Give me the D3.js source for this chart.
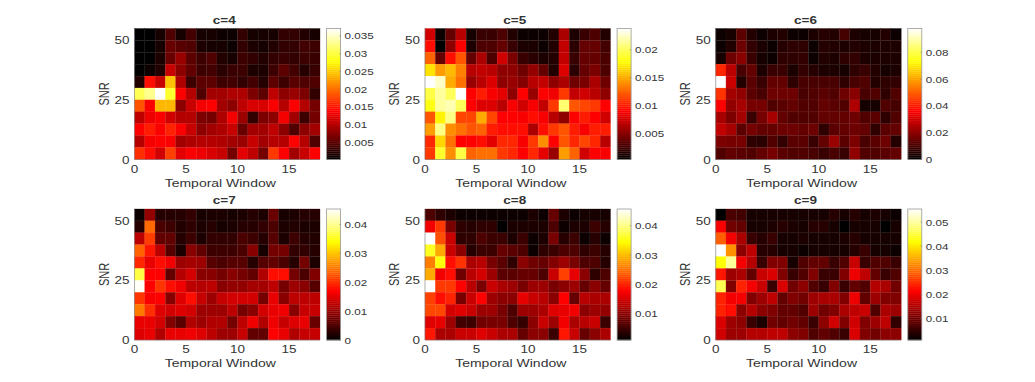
<!DOCTYPE html>
<html>
<head>
<meta charset="utf-8">
<script src="https://cdn.jsdelivr.net/npm/d3@7"></script>
<style>
  html, body { margin: 0; background: #fff; }
  svg { display: block; }
  text { font-family: "Liberation Sans", Arial, sans-serif; fill: #333; }
</style>
</head>
<body>
<div id="chart"></div>
<script>
// Six hot-colormap heatmaps, SNR against temporal window.
const W = 1035, H = 382;

const titles = ["c=4", "c=5", "c=6", "c=7", "c=8", "c=9"];
const xTicks = [0, 5, 10, 15];
const yTicks = [0, 25, 50];
const nCols = 18, nRows = 11, xMax = 18, yMax = 55;

// values are in thousandths, rows listed from the top one (SNR 50-55) down
const c4 = [
  [.4,.3,1.2,4.5,1.5,3.8,1.2,1.5,1,.8,2.8,1.2,1.2,1.5,2.8,2.8,2,1.5],
  [.3,.3,1.5,5.8,5,4.5,1.8,1.5,1.2,1,2.8,1.8,1.5,2,2.8,2.8,3.8,3.5],
  [.3,.4,1.8,5.8,8.5,5.2,3.5,4.5,2,1.5,3.5,2.8,2,2.8,3.2,2.8,3.5,3.2],
  [.3,.8,2,11,7.8,5.5,3.5,3.8,2.4,3.2,3.5,1.8,1.8,3.5,5.2,3.8,2.2,3.2],
  [2,14.5,11,24.5,9.7,3.5,5.2,5.2,3.5,3.8,2.8,3.8,2.2,5.2,3.5,5,4.5,4.5],
  [31,33,37,29.5,13.8,10,4.5,9,9,9.7,9.7,7,5.2,10.5,7.8,8.5,7,2.8],
  [18.5,13.8,24,24,7.8,11,13.5,14,9,7.8,10.5,12,12,13.8,10,13.8,10,6.5],
  [10.5,13,13.8,11.5,10,10,7,6.5,9.7,13.5,8.5,2.8,7,7.8,13.5,9,3.5,6.5],
  [14,15.5,13.8,16,13.8,11,7.8,9,9.7,11,5.8,9,9,10.5,7.8,4.5,7.8,9],
  [10,13.5,14,13.8,9,9.7,10,10,9.7,9,8.5,11,9,10,10,14,10,4.5],
  [16.5,14.5,11.5,17.5,12.5,13.8,13,12,11,6.5,12.5,10.5,6.5,17,14,9,11,14],
];
const c5 = [
  [7.5,.6,3.8,6.7,1,2.2,2.2,3,1.5,.8,.7,.9,1.5,6.2,1.2,2.2,3,1.5],
  [9.5,.5,5.2,9,1.2,3,3,3.8,2.2,1.2,1.2,.9,1.5,7,1.8,3.8,3.8,2.6],
  [12.5,3.8,9.5,12,3.8,6.2,3,7.5,4.5,2.2,1.8,1.3,1.5,7,2.2,3.8,3.8,2.9],
  [17,14.5,15.5,13.5,6.7,7,6.7,5.2,5.2,4.1,5.4,3.8,1.5,7.9,1.8,3.8,4.5,3],
  [23.8,22.5,15,13,5.6,6.7,7.9,5.2,5.6,4.9,6.7,7,5.2,6.2,4.1,4.5,6.2,4.1],
  [19.5,21.5,20,23.8,9.1,10,8.9,8.2,5.2,9.1,5.6,9.1,8.6,11,7,7.5,6.7,5.2],
  [18.5,21.5,22,20,9.1,7.9,7.9,6.7,8.9,7.5,8.9,7,11,20.5,12,11.5,11,9.1],
  [12,17.5,21,11.5,11.5,15,11.5,9.1,9.1,8.9,9.5,8.9,6.7,5.2,9.1,10,9.1,7.5],
  [14.5,21,14,13,12,12.5,10,9.5,9.5,9.5,6.2,9.5,11,12,10,8.9,10,10],
  [10.5,16.5,13,9.1,9.1,9.5,8.2,10.5,10.5,8.9,11,14,9.1,12,10.5,11.5,10.5,6.7],
  [11,19,14,19.5,12.5,13,13,11,10.5,9.1,10.5,8.2,5.6,14.5,12.5,7.5,9.1,8.9],
];
const c6 = [
  [1,3,13,5,2,4,5,2.5,2.5,4,5.5,5,9.7,4,3.5,3.5,5,1.5],
  [2,5,15.6,7.2,4,2.5,5.5,6.6,6.6,2.5,5.5,5,4.5,5,4,4,4.5,4.5],
  [3,15.6,19.5,8,3,2.5,6.6,6.6,7.2,2,5,4.5,6.6,7.2,4.5,4,4.5,4.5],
  [42,27,10.4,14.3,4,8,8,4,7.2,5.5,4,4,3,6.6,8,5,3.5,4],
  [97.7,29,5,13,8,14.3,14.3,6.6,10.4,10.4,10.4,10.4,6.6,10.4,11.7,5,6.6,7.2],
  [44,23.4,20.8,13,10.4,15.6,15.6,15.6,10.4,11.7,13,11.7,15.6,19.5,10.4,11.7,6.6,11.7],
  [37,20.8,24,17,17,11.7,13,14.3,11.7,11.7,14.3,13,11.7,25,3.5,3.5,11.7,9.7],
  [24,18,23.4,8,17,24,14.3,11.7,11.7,11.7,14.3,14.3,14.3,15.6,11.7,13,6.6,11.7],
  [28,24,13,17,14.3,14.3,15.6,15.6,14.3,15.6,6.6,13,14.3,15.6,14.3,6.6,13,14.3],
  [18,17,17,6.5,6,11.7,7,13,13,8,14.3,22,13,18,10.4,13,15.6,5],
  [11.7,14.3,13,11.7,14.3,17,13,11.7,11.7,10.4,8,10.4,8,20.8,11.7,11.7,13,14.3],
];
const c7 = [
  [.8,9.7,2.5,2.5,2.5,3.3,1.5,2,2,1.5,2,2.5,2,7,1.5,2,2.5,2.5],
  [2.5,24,5,4,2.2,3,1.8,2.5,1.5,1.8,2.5,2.5,3.3,5,2,2.2,2,1.8],
  [12.5,21,6.5,6.5,2.5,4,2,3.3,3.3,3.3,5,4,2.5,5.8,2,4,2.5,2.3],
  [23.5,18.5,12.5,5.8,2,9.1,6.5,4,4,4,5,9.1,1.5,7.8,7.8,3.3,3.3,2.5],
  [19.5,15.5,17.5,16,10.4,11,10.4,5.8,5,5.8,5.8,2.5,5.8,6.5,5,2.5,7.8,2],
  [37,17,17,6.5,12,14,9.1,9.1,7.8,9.1,7.8,6.5,11.7,18,18,7.8,5,8.5],
  [45,17,20.5,17.5,16,12.5,12,12.5,9.1,9.7,9.7,11,11,12.5,7.8,10.4,9.1,5.8],
  [20.5,16.5,17,9,14.8,18,13.2,10.4,13.2,14,14,14,7.8,15.5,9.1,12.5,12.5,12.5],
  [25,20,14.8,14,14.8,14,10.4,10.4,10.4,12.5,7.8,9.1,14,15.5,16,9.1,13.2,13.2],
  [15.5,15.5,14,8.6,6,11.7,10.4,11.7,11.7,7.8,12.5,16,11.7,16,13.2,14.8,15.5,7],
  [14.8,15.5,11.7,15.5,15.5,16,14.8,12.5,10.4,10.4,13.2,6.5,6.5,17,15.5,11.7,13.2,13.2],
];
const c8 = [
  [6.2,4.2,3,2,2,2,1.8,2,2,2,3,2,7.8,3,2,2.5,2.5,2.5],
  [17,21.5,9,4.2,3.5,4.2,4.2,1.2,3,3,3,3,6.2,2,3,3,5,3.5],
  [45.7,23,14.2,4.2,4.2,6.2,5,5,3,5,2.2,2.8,9,3.5,5,1.8,3.5,2],
  [36,29,14.2,10.2,3.5,5,5,7.8,7,6.2,1.8,4.2,5,6.2,6.2,4.2,5,3.5],
  [26,35,18.5,21,12.3,13.2,9,7,4.2,10.2,8.4,7.8,9.7,11.3,9,6.2,6.2,3.5],
  [29,17,18.5,8.4,13.2,15,11.3,7,7,7.8,7.8,6.2,14.2,22,16.3,10.2,4.2,6.2],
  [45.7,21.5,21.5,18,13.2,9,14.2,12.3,11.3,9,11.3,11.3,9,10.2,11.3,7.8,10.2,7.8],
  [22,18.5,20,9,14.2,18,11.3,10.2,10.2,16.3,14.2,13.2,10.2,18,7.8,13.2,12.3,12.3],
  [22.5,22.5,15,15.7,14.2,11.3,11.3,9,6.2,11.3,11.3,12.3,15.7,16.3,17,10.2,11.3,10.8],
  [15.7,16.3,11.3,5.5,5,8.4,9,9,6.2,4.5,10.2,14.2,11.3,17,12.3,13.2,14.2,5],
  [19,12.3,12.3,14.2,14.2,15.7,14.2,12.3,12.3,7.8,10.2,10.2,5,19,14.2,7.8,10.2,12.3],
];
const c9 = [
  [1.5,7,6,3,3,3,3,3,2.5,3,3,4.2,3,4.2,3,3.5,2.5,2],
  [21,10,8.8,3,3,3.5,4.2,3.5,3,4.2,4.2,2.5,1.5,3,3,3,1.5,2.5],
  [29,20.5,14.6,5.5,4.2,5.5,2.5,3,3.5,3,3,3,3.5,4.2,3,3,3,3],
  [55.4,33,12.3,16.3,4.2,4.2,3,3,2,3,3,3,3,4.2,5.5,2.5,2.5,2],
  [42,50,20.5,15.5,5.5,11.2,11.2,3,7.5,8.8,8.8,5.5,7.5,17,5.5,7.5,7.5,5.5],
  [23,13.5,14.6,8.8,17,18.5,11.2,5.5,7.5,11.2,5.5,5.5,11.2,20,16.3,8.8,5.5,7.5],
  [46,11.2,24,20.5,17,5.5,18.5,10,12.3,7.5,5.5,11.2,5.5,8.8,7.5,15.5,14.6,10],
  [24,20.5,20.5,11.2,13.5,16.3,8.8,11.2,10,13.5,14.6,14.6,11.2,20,8.8,13.5,11.2,11.2],
  [24,22,12.3,15.5,12.3,11.2,8.8,8.8,7.5,13.5,10,11.2,14.6,16.3,17,7.5,14.6,13.5],
  [18.5,13.5,12.3,5.5,3.5,10,8.8,10,8.8,5.5,12.3,17.7,11.2,17.7,11.2,13.5,16.3,5],
  [17.7,13.5,13.5,15.5,15.5,16.3,16.3,12.3,11.2,7.5,8.8,7.5,5.5,18.5,11.2,10,12.3,12.3],
];
const panelValues = [c4, c5, c6, c7, c8, c9];

const barDomains = [[0.0002, 0.0371], [0.0003, 0.0238], [0, 0.0977], [0, 0.0453], [0.0011, 0.0457], [0.001, 0.0554]];
const barTicks = [
  [0.005, 0.01, 0.015, 0.02, 0.025, 0.03, 0.035],
  [0.005, 0.01, 0.015, 0.02],
  [0, 0.02, 0.04, 0.06, 0.08],
  [0, 0.01, 0.02, 0.03, 0.04],
  [0.01, 0.02, 0.03, 0.04],
  [0.01, 0.02, 0.03, 0.04, 0.05],
];

// axes boxes
const panelX = [134.5, 425, 715.7];
const panelY = [28.5, 209];
const plotW = 185.5, plotH = 131;
const barGap = 6.6, barW = 14, barSteps = 64;

const hot = d3.scaleLinear().domain([0, 0.375, 0.75, 1]).range(["#000", "#f00", "#ff0", "#fff"]).clamp(true);
const GREY = "#777";
const STRETCH = 1.25; // the reference is stretched sideways, its glyphs too

const svg = d3.select("#chart").append("svg").attr("width", W).attr("height", H);

// the reference is resampled, so its cells have soft edges
svg.append("defs").append("filter").attr("id", "soft")
  .attr("x", "-2%").attr("y", "-2%").attr("width", "104%").attr("height", "104%")
  .append("feGaussianBlur").attr("stdDeviation", 0.5);

function wideText(sel, x, y, anchor, txt, size, weight) {
  sel.append("text")
    .attr("transform", `translate(${x},${y}) scale(${STRETCH},1)`)
    .attr("text-anchor", anchor)
    .style("font-size", size + "px")
    .style("font-weight", weight || "normal")
    .text(txt);
}

titles.forEach((title, i) => {
  const px = panelX[i % 3], py = panelY[Math.floor(i / 3)];
  const g = svg.append("g").attr("transform", `translate(${px},${py})`);

  const x = d3.scaleLinear().domain([0, xMax]).range([0, plotW]);
  const y = d3.scaleLinear().domain([0, yMax]).range([plotH, 0]);
  const cols = d3.scaleBand().domain(d3.range(nCols)).range([0, plotW]);
  const rows = d3.scaleBand().domain(d3.range(nRows)).range([0, plotH]);
  const domain = barDomains[i];
  const norm = d3.scaleLinear().domain(domain).range([0, 1]);

  const cells = panelValues[i].flatMap((row, r) => row.map((v, c) => ({ r, c, v: v / 1000 })));
  const heat = g.append("g").attr("filter", "url(#soft)");
  heat.selectAll("rect.cell").data(cells).enter().append("rect")
    .attr("class", "cell")
    .attr("x", (d) => cols(d.c)).attr("y", (d) => rows(d.r))
    .attr("width", cols.bandwidth()).attr("height", rows.bandwidth())
    .attr("fill", (d) => hot(norm(d.v)))
    .attr("stroke", (d) => hot(norm(d.v))).attr("stroke-width", 0.3);

  // faint cell borders
  const grid = g.append("g").attr("stroke", "#fff").attr("stroke-opacity", 0.05).attr("stroke-width", 0.7);
  d3.range(1, nCols).forEach((c) => {
    grid.append("line").attr("x1", cols(c)).attr("x2", cols(c)).attr("y1", 0).attr("y2", plotH);
  });
  d3.range(1, nRows).forEach((r) => {
    grid.append("line").attr("x1", 0).attr("x2", plotW).attr("y1", rows(r)).attr("y2", rows(r));
  });

  g.append("path").attr("d", `M0,0V${plotH}H${plotW}`).attr("fill", "none").attr("stroke", GREY).attr("stroke-width", 0.6);
  xTicks.forEach((t) => wideText(g, x(t), plotH + 13, "middle", t, 10.8));
  yTicks.forEach((t) => wideText(g, -5, y(t) + 4, "end", t, 10.8));

  // labels sit a little left of the box centre in the reference
  wideText(g, plotW / 2 - 7, plotH + 27, "middle", "Temporal Window", 11.2);
  wideText(g, plotW / 2 - 3, -5, "middle", title, 10.8, "bold");
  g.append("text")
    .attr("transform", `translate(-26,${plotH / 2}) scale(${STRETCH},1) rotate(-90)`)
    .attr("text-anchor", "middle")
    .style("font-size", "11px")
    .text("SNR");

  // colour bar
  const bar = g.append("g").attr("transform", `translate(${plotW + barGap},0)`);
  const yBar = d3.scaleLinear().domain(domain).range([plotH, 0]);
  const stepH = plotH / barSteps;
  bar.selectAll("rect.step").data(d3.range(barSteps)).enter().append("rect")
    .attr("class", "step")
    .attr("x", 0).attr("width", barW)
    .attr("y", (s) => plotH - (s + 1) * stepH).attr("height", stepH + 0.3)
    .attr("fill", (s) => hot((s + 0.5) / barSteps));
  bar.append("rect").attr("width", barW).attr("height", plotH)
    .attr("fill", "none").attr("stroke", "#999").attr("stroke-width", 0.8);
  barTicks[i].forEach((t) => {
    bar.append("line").attr("x1", barW - 1.5).attr("x2", barW).attr("y1", yBar(t)).attr("y2", yBar(t))
      .attr("stroke", GREY).attr("stroke-width", 0.5);
    wideText(bar, barW + 4, yBar(t) + 3.5, "start", String(t), 9.3);
  });
});
</script>
</body>
</html>
